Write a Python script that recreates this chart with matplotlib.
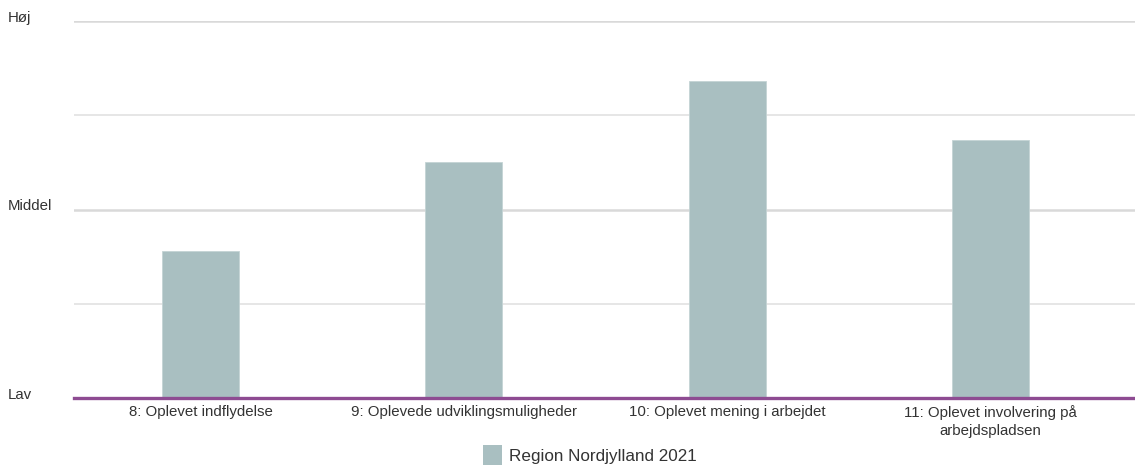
import matplotlib
matplotlib.use("Agg")
import matplotlib.pyplot as plt
import matplotlib.transforms as mtransforms
from matplotlib.patches import Patch

categories = ["8: Oplevet indflydelse", "9: Oplevede udviklingsmuligheder",
              "10: Oplevet mening i arbejdet", "11: Oplevet involvering på\narbejdspladsen"]
values = [38.9, 62.6, 84.1, 68.4]
series_name = "Region Nordjylland 2021"
ytick_values = [0, 50, 100]
ytick_labels = ["Lav", "Middel", "Høj"]
minor_grid = [25, 75]

plt.rcParams['font.family'] = ['Liberation Sans', 'DejaVu Sans']

W, H = 1135, 466
fig = plt.figure(figsize=(W / 100, H / 100), dpi=100)
ax = fig.add_axes([74 / W, (H - 398.3) / H, (W - 74) / W, (398.3 - 20.7) / H])

bar_color = "#a9bfc1"
text_color = "#333333"
x = list(range(len(categories)))
ax.bar(x, values, width=0.2925, color=bar_color, edgecolor="#c4d4d5", linewidth=0.6, zorder=3)

ax.set_xlim(-0.4813, 3.549)
ax.set_ylim(0, 100)

for v in ytick_values[1:]:
    ax.axhline(v, color="#d9d9d9", linewidth=1.8, zorder=1)
for v in minor_grid:
    ax.axhline(v, color="#e2e2e2", linewidth=1.2, zorder=1)
ax.axhline(0, color="#8e4b92", linewidth=2.4, zorder=4, clip_on=False)

for s in ax.spines.values():
    s.set_visible(False)
ax.set_yticks([])
ax.set_xticks(x)
ax.set_xticklabels(categories, fontsize=10.8, color=text_color, linespacing=1.3)
ax.tick_params(axis='x', length=0, pad=5)

trans = mtransforms.blended_transform_factory(fig.transFigure, ax.transData)
trans = trans + mtransforms.ScaledTranslation(0, 3 / 100, fig.dpi_scale_trans)
for v, lab in zip(ytick_values, ytick_labels):
    ax.text(8 / W, v, lab, transform=trans, ha='left', va='center',
            fontsize=10.8, color=text_color)

handle = Patch(facecolor=bar_color, edgecolor='none')
fig.legend([handle], [series_name], loc='center', bbox_to_anchor=(590 / W, 1 - 455 / H),
           frameon=False, fontsize=12.3, handlelength=1.1, handleheight=1.5,
           handletextpad=0.4, labelcolor=text_color)

fig.savefig("out.png", dpi=100)
